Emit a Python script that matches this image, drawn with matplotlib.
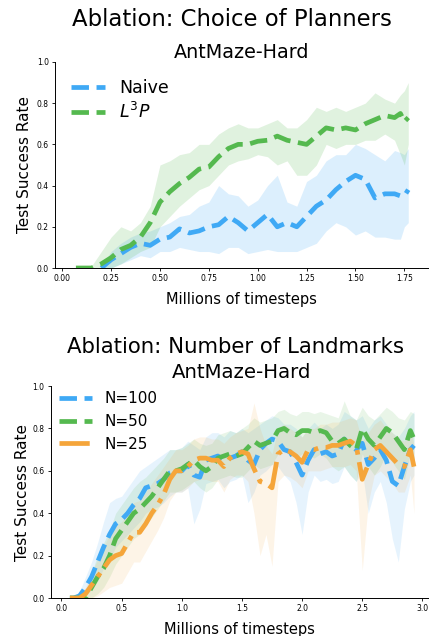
import matplotlib
matplotlib.use("Agg")
import matplotlib.pyplot as plt

###############################################################
# data - top plot (choice of planners)
###############################################################
x_top = [0.07, 0.10, 0.15, 0.20, 0.25, 0.30, 0.35, 0.40, 0.45, 0.50,
         0.55, 0.60, 0.65, 0.70, 0.75, 0.80, 0.85, 0.90, 0.95, 1.00,
         1.05, 1.10, 1.15, 1.20, 1.25, 1.30, 1.35, 1.40, 1.45, 1.50,
         1.55, 1.60, 1.65, 1.70, 1.73, 1.75, 1.77]
l3p = [0.00, 0.00, 0.00, 0.02, 0.05, 0.09, 0.11, 0.15, 0.22, 0.32,
       0.37, 0.41, 0.44, 0.48, 0.49, 0.54, 0.58, 0.60, 0.60, 0.615,
       0.62, 0.64, 0.62, 0.61, 0.60, 0.64, 0.68, 0.67, 0.68, 0.67,
       0.70, 0.72, 0.74, 0.73, 0.75, 0.71, 0.73]
l3p_hi = [0.00, 0.00, 0.01, 0.08, 0.15, 0.20, 0.18, 0.22, 0.30, 0.50,
          0.52, 0.55, 0.56, 0.60, 0.60, 0.65, 0.68, 0.70, 0.68, 0.68,
          0.70, 0.72, 0.68, 0.68, 0.72, 0.78, 0.76, 0.78, 0.76, 0.78,
          0.80, 0.85, 0.82, 0.80, 0.84, 0.86, 0.90]
l3p_lo = [0.00, 0.00, 0.00, 0.00, 0.00, 0.02, 0.05, 0.08, 0.10, 0.20,
          0.25, 0.30, 0.34, 0.38, 0.40, 0.45, 0.50, 0.52, 0.53, 0.55,
          0.54, 0.50, 0.52, 0.45, 0.45, 0.50, 0.60, 0.58, 0.60, 0.60,
          0.62, 0.62, 0.65, 0.62, 0.55, 0.50, 0.60]

x_naive = x_top[3:]
naive = [0.00, 0.04, 0.07, 0.10, 0.12, 0.11, 0.14,
         0.15, 0.19, 0.17, 0.18, 0.20, 0.21, 0.25, 0.22, 0.18, 0.22,
         0.26, 0.20, 0.22, 0.20, 0.25, 0.30, 0.33, 0.38, 0.42, 0.45,
         0.43, 0.34, 0.36, 0.36, 0.35, 0.35, 0.38]
naive_hi = [0.01, 0.08, 0.12, 0.15, 0.17, 0.18, 0.20,
            0.22, 0.25, 0.26, 0.30, 0.32, 0.40, 0.36, 0.35, 0.30, 0.33,
            0.40, 0.45, 0.32, 0.30, 0.42, 0.45, 0.52, 0.55, 0.55, 0.60,
            0.58, 0.55, 0.52, 0.57, 0.56, 0.55, 0.58]
naive_lo = [0.00, 0.00, 0.02, 0.04, 0.06, 0.05, 0.08,
            0.08, 0.10, 0.09, 0.08, 0.08, 0.07, 0.10, 0.10, 0.07, 0.08,
            0.09, 0.08, 0.08, 0.08, 0.10, 0.12, 0.18, 0.22, 0.20, 0.16,
            0.18, 0.15, 0.15, 0.14, 0.14, 0.20, 0.22]

###############################################################
# data - bottom plot (number of landmarks)
###############################################################
x_bot = [0.07, 0.10, 0.15, 0.20, 0.25, 0.30, 0.35, 0.40, 0.45, 0.50,
         0.55, 0.60, 0.65, 0.70, 0.75, 0.80, 0.85, 0.90, 0.95, 1.00,
         1.05, 1.10, 1.15, 1.20, 1.25, 1.30, 1.35, 1.40, 1.45, 1.50,
         1.55, 1.60, 1.65, 1.70, 1.75, 1.80, 1.85, 1.90, 1.95, 2.00,
         2.05, 2.10, 2.15, 2.20, 2.25, 2.30, 2.35, 2.40, 2.45, 2.50,
         2.55, 2.60, 2.65, 2.70, 2.75, 2.80, 2.85, 2.90, 2.93]

n100 = [0.00, 0.00, 0.01, 0.05, 0.10, 0.17, 0.24, 0.30, 0.35, 0.37,
        0.40, 0.44, 0.47, 0.52, 0.53, 0.54, 0.56, 0.59, 0.60, 0.60,
        0.63, 0.58, 0.57, 0.65, 0.66, 0.67, 0.65, 0.66, 0.67, 0.69,
        0.65, 0.63, 0.70, 0.73, 0.75, 0.74, 0.70, 0.69, 0.64, 0.58,
        0.65, 0.70, 0.68, 0.69, 0.67, 0.68, 0.75, 0.72, 0.70, 0.73,
        0.63, 0.66, 0.70, 0.65, 0.55, 0.53, 0.62, 0.70, 0.72]
n100_hi = [0.00, 0.01, 0.03, 0.10, 0.17, 0.26, 0.36, 0.45, 0.47, 0.48,
           0.52, 0.56, 0.60, 0.62, 0.64, 0.66, 0.68, 0.70, 0.70, 0.71,
           0.74, 0.72, 0.70, 0.76, 0.78, 0.78, 0.76, 0.79, 0.78, 0.80,
           0.78, 0.80, 0.82, 0.84, 0.86, 0.85, 0.82, 0.82, 0.80, 0.76,
           0.80, 0.83, 0.80, 0.82, 0.80, 0.82, 0.88, 0.86, 0.84, 0.86,
           0.80, 0.84, 0.86, 0.82, 0.78, 0.76, 0.80, 0.86, 0.88]
n100_lo = [0.00, 0.00, 0.00, 0.01, 0.04, 0.08, 0.14, 0.18, 0.24, 0.27,
           0.30, 0.33, 0.36, 0.40, 0.42, 0.43, 0.45, 0.48, 0.50, 0.50,
           0.52, 0.35, 0.42, 0.54, 0.55, 0.56, 0.52, 0.55, 0.56, 0.58,
           0.45, 0.50, 0.58, 0.60, 0.63, 0.62, 0.58, 0.55, 0.45, 0.30,
           0.50, 0.58, 0.55, 0.56, 0.54, 0.55, 0.62, 0.58, 0.55, 0.60,
           0.40, 0.50, 0.55, 0.45, 0.28, 0.17, 0.42, 0.55, 0.58]

n50 = [0.00, 0.00, 0.00, 0.00, 0.05, 0.10, 0.14, 0.20, 0.28, 0.32,
       0.36, 0.40, 0.42, 0.45, 0.48, 0.52, 0.56, 0.60, 0.60, 0.61,
       0.63, 0.65, 0.62, 0.60, 0.62, 0.66, 0.67, 0.68, 0.67, 0.68,
       0.71, 0.74, 0.72, 0.73, 0.74, 0.79, 0.80, 0.78, 0.77, 0.79,
       0.79, 0.78, 0.79, 0.78, 0.74, 0.73, 0.75, 0.72, 0.70, 0.80,
       0.75, 0.72, 0.76, 0.80, 0.78, 0.74, 0.70, 0.79, 0.75]
n50_hi = [0.00, 0.00, 0.01, 0.03, 0.12, 0.20, 0.26, 0.32, 0.40, 0.44,
          0.48, 0.52, 0.55, 0.57, 0.60, 0.63, 0.66, 0.70, 0.70, 0.71,
          0.73, 0.75, 0.73, 0.72, 0.73, 0.77, 0.78, 0.79, 0.78, 0.80,
          0.82, 0.85, 0.83, 0.84, 0.85, 0.88, 0.89, 0.87, 0.86, 0.88,
          0.88, 0.87, 0.88, 0.87, 0.86, 0.85, 0.93, 0.86, 0.84, 0.90,
          0.86, 0.84, 0.87, 0.90, 0.88, 0.85, 0.84, 0.88, 0.87]
n50_lo = [0.00, 0.00, 0.00, 0.00, 0.00, 0.02, 0.05, 0.10, 0.16, 0.20,
          0.24, 0.28, 0.30, 0.34, 0.38, 0.42, 0.46, 0.50, 0.50, 0.51,
          0.53, 0.55, 0.52, 0.50, 0.52, 0.56, 0.57, 0.58, 0.57, 0.57,
          0.60, 0.63, 0.61, 0.62, 0.63, 0.68, 0.70, 0.68, 0.66, 0.68,
          0.68, 0.66, 0.68, 0.66, 0.62, 0.60, 0.62, 0.58, 0.55, 0.68,
          0.62, 0.58, 0.62, 0.68, 0.64, 0.60, 0.56, 0.68, 0.62]

n25 = [0.00, 0.00, 0.00, 0.02, 0.06, 0.10, 0.14, 0.18, 0.20, 0.21,
       0.26, 0.31, 0.31, 0.35, 0.40, 0.44, 0.49, 0.56, 0.60, 0.60,
       0.62, 0.65, 0.66, 0.66, 0.65, 0.65, 0.62, 0.66, 0.68, 0.69,
       0.68, 0.61, 0.55, 0.54, 0.52, 0.68, 0.70, 0.69, 0.67, 0.64,
       0.70, 0.70, 0.71, 0.71, 0.72, 0.72, 0.73, 0.74, 0.72, 0.56,
       0.63, 0.70, 0.72, 0.69, 0.66, 0.63, 0.62, 0.70, 0.62]
n25_hi = [0.00, 0.00, 0.01, 0.05, 0.12, 0.18, 0.24, 0.30, 0.34, 0.36,
          0.40, 0.45, 0.46, 0.50, 0.54, 0.58, 0.62, 0.66, 0.70, 0.70,
          0.72, 0.75, 0.76, 0.76, 0.75, 0.75, 0.73, 0.76, 0.78, 0.79,
          0.80, 0.92, 0.80, 0.72, 0.68, 0.80, 0.82, 0.80, 0.78, 0.76,
          0.80, 0.80, 0.82, 0.82, 0.83, 0.83, 0.84, 0.85, 0.84, 0.74,
          0.78, 0.82, 0.84, 0.80, 0.78, 0.75, 0.74, 0.80, 0.72]
n25_lo = [0.00, 0.00, 0.00, 0.00, 0.00, 0.01, 0.03, 0.05, 0.06, 0.07,
          0.12, 0.17, 0.17, 0.22, 0.27, 0.32, 0.38, 0.46, 0.50, 0.50,
          0.52, 0.55, 0.56, 0.56, 0.55, 0.55, 0.50, 0.56, 0.58, 0.58,
          0.55, 0.40, 0.20, 0.30, 0.15, 0.55, 0.58, 0.57, 0.55, 0.52,
          0.60, 0.60, 0.60, 0.61, 0.62, 0.62, 0.62, 0.63, 0.60, 0.13,
          0.45, 0.58, 0.60, 0.57, 0.54, 0.50, 0.50, 0.58, 0.40]

blue = "#3fa9f5"
green = "#55b94f"
orange = "#f5a53a"

###############################################################
# figure
###############################################################
fig = plt.figure(figsize=(4.33, 6.36), dpi=100)


def style_axes(ax, xticks, xlim, ylabelpad):
    ax.spines["top"].set_visible(False)
    ax.spines["right"].set_visible(False)
    ax.set_ylim(0, 1.0)
    ax.set_xlim(*xlim)
    ax.set_xticks(xticks)
    ax.set_yticks([0.0, 0.2, 0.4, 0.6, 0.8, 1.0])
    ax.tick_params(labelsize=5.5, length=2.5, width=0.6, pad=2)
    ax.set_ylabel("Test Success Rate", fontsize=11, labelpad=ylabelpad)
    ax.set_xlabel("Millions of timesteps", fontsize=10.5, labelpad=6)
    for s in ax.spines.values():
        s.set_linewidth(0.7)


# top plot
ax1 = fig.add_axes([0.127, 0.5786, 0.861, 0.324])
ax1.fill_between(x_naive, naive_lo, naive_hi, color=blue, alpha=0.18, lw=0)
ax1.fill_between(x_top, l3p_lo, l3p_hi, color=green, alpha=0.18, lw=0)
ax1.plot(x_naive, naive, color=blue, lw=3.4, ls="--", label="Naive")
ax1.plot(x_top, l3p, color=green, lw=3.4, ls="--", label="$L^3P$")
style_axes(ax1, [0.00, 0.25, 0.50, 0.75, 1.00, 1.25, 1.50, 1.75],
           (-0.037, 1.87), 3)
ax1.legend(loc="upper left", bbox_to_anchor=(0.0, 0.995), frameon=False,
           fontsize=12.5, handlelength=2.0, labelspacing=0.3)
fig.text(0.536, 0.970, "Ablation: Choice of Planners", fontsize=16.4,
         ha="center", va="center")
fig.text(0.558, 0.918, "AntMaze-Hard", fontsize=13.8,
         ha="center", va="center")

# bottom plot
ax2 = fig.add_axes([0.117, 0.0597, 0.871, 0.3333])
ax2.fill_between(x_bot, n100_lo, n100_hi, color=blue, alpha=0.13, lw=0)
ax2.fill_between(x_bot, n50_lo, n50_hi, color=green, alpha=0.13, lw=0)
ax2.fill_between(x_bot, n25_lo, n25_hi, color=orange, alpha=0.12, lw=0)
ax2.plot(x_bot, n100, color=blue, lw=3.4, ls="--", label="N=100")
ax2.plot(x_bot, n50, color=green, lw=3.4, ls="--", label="N=50")
ax2.plot(x_bot, n25, color=orange, lw=3.4, ls="-.", label="N=25")
style_axes(ax2, [0.0, 0.5, 1.0, 1.5, 2.0, 2.5, 3.0], (-0.09, 3.045), 2)
ax2.legend(loc="upper left", bbox_to_anchor=(-0.015, 1.04), frameon=False,
           fontsize=11, handlelength=2.2, labelspacing=0.5)
fig.text(0.543, 0.4544, "Ablation: Number of Landmarks", fontsize=15.3,
         ha="center", va="center")
fig.text(0.558, 0.415, "AntMaze-Hard", fontsize=14.2,
         ha="center", va="center")

fig.savefig("out.png", dpi=100)
